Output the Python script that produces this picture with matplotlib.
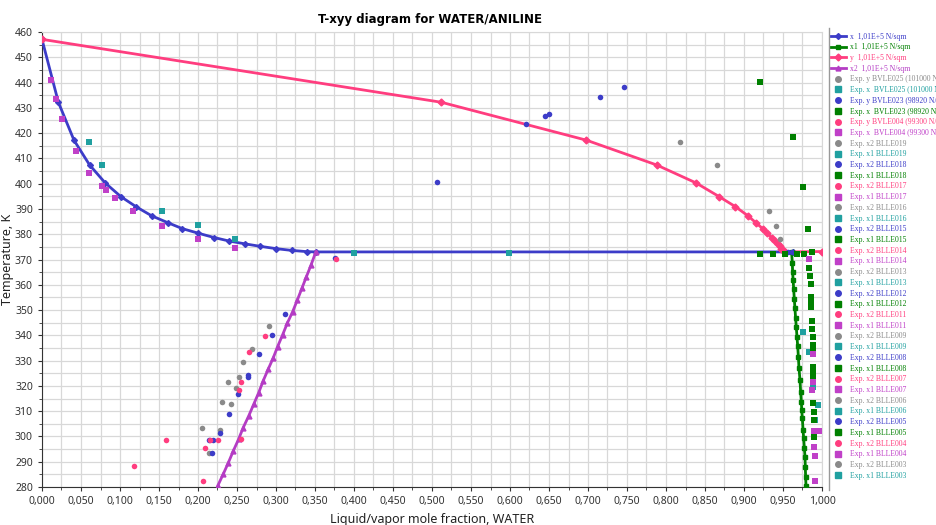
"""T-xyy diagram for WATER/ANILINE: model curves plus experimental VLE/LLE points."""

import matplotlib
matplotlib.use("Agg")
import matplotlib.pyplot as plt
from matplotlib.lines import Line2D
from matplotlib.ticker import MultipleLocator, FuncFormatter

# --- model curves (temperature in K) ---
T_vle = [457.1, 432.2, 417.2, 407.4, 400.3, 394.9, 390.9, 387.3, 384.6, 382.2,
         380.4, 378.7, 377.3, 376.2, 375.2, 374.3, 373.6, 373.1, 373.0]
x_liq = [0.0, 0.021, 0.041, 0.061, 0.081, 0.101, 0.1205, 0.1405, 0.161, 0.180,
         0.2004, 0.2205, 0.240, 0.260, 0.280, 0.300, 0.320, 0.340, 0.351]
y_vap = [0.0, 0.512, 0.698, 0.788, 0.8385, 0.868, 0.889, 0.905, 0.915, 0.924,
         0.930, 0.9355, 0.9397, 0.943, 0.946, 0.948, 0.950, 0.952, 0.953]
x_tail = [0.963]
T_x_tail = [373.0]
y_tail = [1.0]
T_y_tail = [373.15]

x1_curve = [0.961, 0.962, 0.9623, 0.963, 0.9637, 0.9645, 0.9653, 0.9662, 0.967,
            0.9679, 0.9688, 0.9697, 0.9705, 0.9718, 0.9726, 0.9735, 0.974, 0.9748,
            0.9757, 0.9765, 0.9774, 0.9782, 0.9786, 0.979, 0.9795]
T_x1_curve = [373.0, 368.5, 365.2, 361.9, 358.2, 354.4, 350.7, 346.7, 343.4, 339.5,
              335.9, 331.6, 327.0, 322.3, 317.7, 313.8, 310.5, 307.2, 302.6, 299.3,
              295.3, 292.0, 288.1, 284.1, 280.4]
x2_curve = [0.351, 0.3449, 0.339, 0.3332, 0.3274, 0.3214, 0.3145, 0.3086, 0.302,
            0.2966, 0.290, 0.2837, 0.2778, 0.2714, 0.265, 0.258, 0.252, 0.2453,
            0.2389, 0.2325, 0.2252]
T_x2_curve = [373.0, 367.8, 363.2, 358.6, 354.0, 349.4, 344.8, 340.3, 335.5, 331.2,
              326.6, 322.1, 317.3, 312.7, 308.1, 303.5, 298.9, 294.3, 289.6, 285.2,
              280.4]

# --- experimental points, grouped by marker colour ---
gray_x = [0.818, 0.865, 0.9325, 0.9414, 0.946,
          0.2915, 0.269, 0.2577, 0.253, 0.238, 0.2487, 0.2303, 0.2427, 0.2055, 0.2282, 0.2137]
gray_T = [416.4, 407.3, 389.1, 383.4, 378.2,
          343.5, 334.5, 329.6, 323.5, 321.5, 319.3, 313.6, 312.7, 303.5, 302.7, 293.5]
blue_x = [0.376, 0.506, 0.6205, 0.6453, 0.6504, 0.7154, 0.746, 0.957, 0.962,
          0.312, 0.2949, 0.2778, 0.264, 0.2637, 0.2513, 0.2397, 0.2282, 0.2137, 0.2196, 0.2184]
blue_T = [370.7, 400.6, 423.7, 426.9, 427.7, 434.2, 438.1, 373.0, 373.0,
          348.3, 340.0, 332.7, 324.5, 323.5, 316.7, 309.0, 301.4, 298.5, 298.5, 293.5]
pink_x = [0.377,
          0.2863, 0.265, 0.2547, 0.2521, 0.2154, 0.2256, 0.2547, 0.2085, 0.2068, 0.118, 0.159]
pink_T = [370.2,
          339.6, 333.4, 321.5, 318.5, 298.5, 298.5, 298.9, 295.6, 282.3, 288.3, 298.5]
teal_x = [0.060, 0.077, 0.1534, 0.1996, 0.2474, 0.400, 0.5987,
          0.976, 0.9833, 0.9887, 0.9945, 0.9905]
teal_T = [416.4, 407.4, 389.1, 383.5, 378.2, 372.5, 372.5,
          341.4, 333.3, 319.4, 312.4, 306.5]
green_x = [0.921, 0.9632, 0.976, 0.9817, 0.921, 0.9367, 0.953, 0.9683, 0.9769, 0.9875,
           0.9837, 0.9846, 0.9855, 0.9859, 0.9859, 0.9863, 0.9876, 0.9876, 0.988, 0.988,
           0.9884, 0.9884, 0.9887, 0.9887, 0.9891, 0.9895, 0.9895, 0.9902]
green_T = [440.2, 418.3, 398.6, 382.2, 372.1, 372.1, 372.1, 372.1, 372.1, 373.0,
           366.6, 363.5, 360.2, 355.0, 353.1, 351.1, 345.8, 342.4, 339.5, 336.2,
           334.9, 327.6, 325.4, 323.7, 313.4, 309.8, 306.5, 299.9]
magenta_x = [0.0111, 0.018, 0.026, 0.0436, 0.060, 0.077, 0.0825, 0.0936, 0.117, 0.1534,
             0.1996, 0.2474,
             0.983, 0.9887, 0.9891, 0.9868, 0.9895, 0.9966, 0.9902, 0.991, 0.9905]
magenta_T = [441.0, 433.4, 425.5, 413.0, 404.3, 399.2, 397.5, 394.2, 389.1, 383.3,
             378.2, 374.4,
             370.1, 332.6, 321.7, 318.4, 302.2, 302.2, 295.7, 292.3, 282.4]

model_labels = ["x  1,01E+5 N/sqm", "x1  1,01E+5 N/sqm", "y  1,01E+5 N/sqm", "x2  1,01E+5 N/sqm"]
exp_labels = [
    "Exp. y BVLE025 (101000 N/sqm)", "Exp. x  BVLE025 (101000 N/sqm)",
    "Exp. y BVLE023 (98920 N/sqm)", "Exp. x  BVLE023 (98920 N/sqm)",
    "Exp. y BVLE004 (99300 N/sqm)", "Exp. x  BVLE004 (99300 N/sqm)",
    "Exp. x2 BLLE019", "Exp. x1 BLLE019", "Exp. x2 BLLE018", "Exp. x1 BLLE018",
    "Exp. x2 BLLE017", "Exp. x1 BLLE017", "Exp. x2 BLLE016", "Exp. x1 BLLE016",
    "Exp. x2 BLLE015", "Exp. x1 BLLE015", "Exp. x2 BLLE014", "Exp. x1 BLLE014",
    "Exp. x2 BLLE013", "Exp. x1 BLLE013", "Exp. x2 BLLE012", "Exp. x1 BLLE012",
    "Exp. x2 BLLE011", "Exp. x1 BLLE011", "Exp. x2 BLLE009", "Exp. x1 BLLE009",
    "Exp. x2 BLLE008", "Exp. x1 BLLE008", "Exp. x2 BLLE007", "Exp. x1 BLLE007",
    "Exp. x2 BLLE006", "Exp. x1 BLLE006", "Exp. x2 BLLE005", "Exp. x1 BLLE005",
    "Exp. x2 BLLE004", "Exp. x1 BLLE004", "Exp. x2 BLLE003", "Exp. x1 BLLE003",
]

BLUE = "#3c3cc8"
GREEN = "#008000"
PINK = "#ff3d7f"
PURPLE = "#b43cc4"
GRAY = "#8a8a8a"
TEAL = "#20a0a0"
MAGENTA = "#c040c8"

# colour cycle of the experimental legend entries
exp_styles = [(GRAY, "o"), (TEAL, "s"), (BLUE, "o"), (GREEN, "s"), (PINK, "o"), (MAGENTA, "s")]

fig = plt.figure(figsize=(9.37, 5.25), dpi=100)
ax = fig.add_axes([42 / 937, 1 - 487 / 525, 780 / 937, 455 / 525])

ax.plot(x_liq + x_tail, T_vle + T_x_tail, color=BLUE, lw=2, marker="D", ms=3, zorder=3)
ax.plot(y_vap + y_tail, T_vle + T_y_tail, color=PINK, lw=2, marker="D", ms=3.5, zorder=3)
ax.plot(x2_curve, T_x2_curve, color=PURPLE, lw=2, marker="^", ms=3.5, zorder=3)
ax.plot(x1_curve, T_x1_curve, color=GREEN, lw=2, marker="s", ms=3.5, zorder=3)

ax.scatter(gray_x, gray_T, s=16, color=GRAY, marker="o", zorder=4, lw=0)
ax.scatter(blue_x, blue_T, s=16, color=BLUE, marker="o", zorder=4, lw=0)
ax.scatter(pink_x, pink_T, s=16, color=PINK, marker="o", zorder=4, lw=0)
ax.scatter(teal_x, teal_T, s=20, color=TEAL, marker="s", zorder=4, lw=0)
ax.scatter(green_x, green_T, s=20, color=GREEN, marker="s", zorder=4, lw=0)
ax.scatter(magenta_x, magenta_T, s=20, color=MAGENTA, marker="s", zorder=4, lw=0)

ax.set_xlim(0, 1)
ax.set_ylim(280, 460)
ax.xaxis.set_major_locator(MultipleLocator(0.05))
ax.xaxis.set_minor_locator(MultipleLocator(0.025))
ax.yaxis.set_major_locator(MultipleLocator(10))
ax.yaxis.set_minor_locator(MultipleLocator(5))
ax.xaxis.set_major_formatter(FuncFormatter(lambda v, p: f"{v:.3f}".replace(".", ",")))
ax.grid(which="both", color="#d8d8d8", lw=0.9)
ax.set_axisbelow(True)
for side in ("top", "right"):
    ax.spines[side].set_color("#d8d8d8")
for side in ("left", "bottom"):
    ax.spines[side].set_color("#333333")
ax.tick_params(which="both", direction="out", colors="#333333", labelsize=7.5, length=3)
ax.tick_params(which="minor", length=2)
for lab in ax.get_xticklabels() + ax.get_yticklabels():
    lab.set_family("Noto Sans")

ax.set_xlabel("Liquid/vapor mole fraction, WATER", fontsize=9, family="Noto Sans",
              color="#222222")
ax.xaxis.set_label_coords(0.5, -0.058)
ax.set_ylabel("Temperature, K", fontsize=9, family="Noto Sans", color="#222222")
ax.yaxis.set_label_coords(-0.036, 0.5)
fig.text(430 / 937, 1 - 20 / 525, "T-xyy diagram for WATER/ANILINE", ha="center",
         va="center", fontsize=8.5, fontweight="bold", family="DejaVu Sans")

# --- legend on the right ---
handles = [
    Line2D([], [], color=BLUE, lw=2, marker="D", ms=3),
    Line2D([], [], color=GREEN, lw=2, marker="s", ms=3.5),
    Line2D([], [], color=PINK, lw=2, marker="D", ms=3.5),
    Line2D([], [], color=PURPLE, lw=2, marker="^", ms=3.5),
]
colors = [BLUE, GREEN, PINK, PURPLE]
for i, _ in enumerate(exp_labels):
    c, m = exp_styles[i % len(exp_styles)]
    handles.append(Line2D([], [], ls="none", color=c, marker=m, ms=4))
    colors.append(c)
leg = fig.legend(handles, model_labels + exp_labels, loc="upper left",
                 bbox_to_anchor=(829 / 937, 1 - 31 / 525), frameon=False,
                 prop={"family": "Liberation Serif", "size": 5.5},
                 labelspacing=0.355, handlelength=2.0, handletextpad=0.5,
                 borderaxespad=0, borderpad=0.2)
for txt, c in zip(leg.get_texts(), colors):
    txt.set_color(c)
fig.add_artist(Line2D([829 / 937, 829 / 937], [1 - 28 / 525, 1 - 490 / 525],
                      color="#999999", lw=1))

fig.savefig("out.png", dpi=100)
